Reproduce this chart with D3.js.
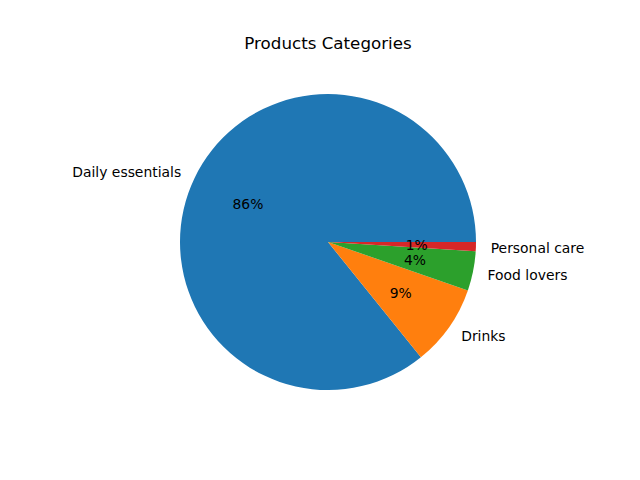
<!DOCTYPE html>
<html>
<head>
<meta charset="utf-8">
<script src="https://cdn.jsdelivr.net/npm/d3@7"></script>
<style>
  body { margin: 0; background: #fff; }
  text { font-family: "DejaVu Sans", sans-serif; fill: #000; }
</style>
</head>
<body>
<svg id="chart" width="640" height="480"></svg>
<script>
// data
var categories = ["Daily essentials", "Drinks", "Food lovers", "Personal care"];
var counts = [858, 89, 43, 10];
var colors = ["#1f77b4", "#ff7f0e", "#2ca02c", "#d62728"];

var width = 640, height = 480;
var cx = 328, cy = 242, radius = 148;

var svg = d3.select("#chart");

svg.append("text")
    .attr("x", cx)
    .attr("y", 49)
    .attr("text-anchor", "middle")
    .style("font-size", "16.7px")
    .text("Products Categories");

var rows = categories.map(function (c, i) {
    return { label: c, value: counts[i], color: colors[i] };
});
var total = d3.sum(counts);

// start at 3 o'clock, go counter-clockwise like matplotlib
var pie = d3.pie()
    .sort(null)
    .value(function (d) { return d.value; })
    .startAngle(Math.PI / 2)
    .endAngle(Math.PI / 2 - 2 * Math.PI);

var arc = d3.arc().innerRadius(0).outerRadius(radius);

var g = svg.append("g").attr("transform", "translate(" + cx + "," + cy + ")");

var slices = g.selectAll("g.slice")
    .data(pie(rows))
    .enter()
    .append("g")
    .attr("class", "slice");

slices.append("path")
    .attr("d", arc)
    .attr("fill", function (d) { return d.data.color; });

function mid(d) { return (d.startAngle + d.endAngle) / 2; }

slices.append("text")
    .attr("x", function (d) { return 1.1 * radius * Math.sin(mid(d)); })
    .attr("y", function (d) { return -1.1 * radius * Math.cos(mid(d)); })
    .attr("dy", "0.4em")
    .attr("text-anchor", function (d) { return Math.sin(mid(d)) > 0 ? "start" : "end"; })
    .style("font-size", "13.9px")
    .text(function (d) { return d.data.label; });

slices.append("text")
    .attr("x", function (d) { return 0.6 * radius * Math.sin(mid(d)); })
    .attr("y", function (d) { return -0.6 * radius * Math.cos(mid(d)); })
    .attr("dy", "0.38em")
    .attr("text-anchor", "middle")
    .style("font-size", "13.9px")
    .text(function (d) { return Math.round(d.value / total * 100) + "%"; });
</script>
</body>
</html>
